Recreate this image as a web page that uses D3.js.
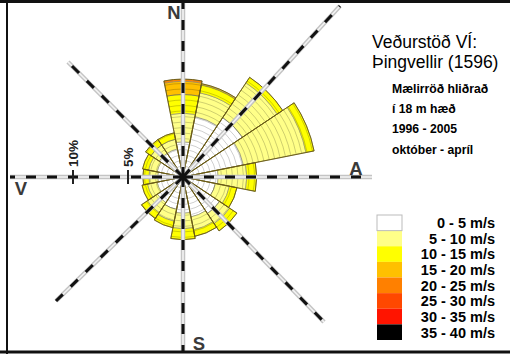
<!DOCTYPE html>
<html>
<head>
<meta charset="utf-8">
<script src="https://cdn.jsdelivr.net/npm/d3@7"></script>
<style>
  html, body { margin: 0; padding: 0; background: #fff; }
  svg { display: block; }
  text { font-family: "Liberation Sans", Arial, sans-serif; }
</style>
</head>
<body>
<svg id="chart" width="510" height="354"></svg>
<script>
// Wind directions (16 sectors, clockwise from north)
const directions = ["N", "NNA", "NA", "ANA", "A", "ASA", "SA", "SSA",
                    "S", "SSV", "SV", "VSV", "V", "VNV", "NV", "NNV"];

// Frequency (%) of each speed class per direction
const freq0to5   = [3.2, 5.6, 6.5, 5.6, 3.2, 3.0, 4.0, 3.7, 3.3, 3.0, 2.8, 2.4, 2.3, 2.4, 2.6, 2.6];
const freq5to10  = [2.6, 2.2, 3.8, 5.8, 2.6, 1.3, 1.1, 1.2, 1.4, 1.1, 1.1, 0.9, 0.8, 0.8, 0.9, 0.9];
const freq10to15 = [1.7, 0.75, 0.6, 0.75, 0.9, 0.7, 0.8, 0.6, 1.0, 0.6, 0.65, 0.5, 0.55, 0.55, 0.6, 0.6];
const freq15to20 = [1.2, 0.1, 0, 0, 0, 0, 0, 0, 0, 0, 0, 0, 0, 0, 0, 0];
const freq20to25 = [0.2, 0, 0, 0, 0, 0, 0, 0, 0, 0, 0, 0, 0, 0, 0, 0];

// Speed classes (legend)
const classLabels = ["0 - 5 m/s", "5 - 10 m/s", "10 - 15 m/s", "15 - 20 m/s",
                     "20 - 25 m/s", "25 - 30 m/s", "30 - 35 m/s", "35 - 40 m/s"];
const classColors = ["#ffffff", "#ffff88", "#ffff00", "#ffc000",
                     "#ff8000", "#ff4800", "#ff1400", "#000000"];

// Percentage scale ticks along the west axis
const scaleTicks = [5, 10];
const tickLabels = ["5%", "10%"];

// Compass labels
const compassLabels = ["N", "A", "S", "V"];

const titleLines = ["Veðurstöð VÍ:", "Þingvellir (1596)"];
const infoLines = ["Mælirröð hliðrað", "í 18 m hæð", "1996 - 2005", "október - apríl"];

const svg = d3.select("#chart");
const cx = 183, cy = 177;

// radial scale: percent -> pixels
const r = d3.scaleLinear().domain([0, 10]).range([0, 110]);
const angle = d3.scaleLinear().domain([0, directions.length]).range([0, 2 * Math.PI]);
const half = Math.PI / directions.length;

const series = [freq0to5, freq5to10, freq10to15, freq15to20, freq20to25];
const stacked = directions.map((d, i) => {
  let acc = 0;
  return series.map((s, k) => {
    const v0 = acc; acc += s[i];
    return { dir: i, cls: k, v0, v1: acc };
  });
});
const totals = stacked.map(st => st[st.length - 1].v1);

const g = svg.append("g").attr("transform", `translate(${cx},${cy})`);

const arc = d3.arc()
  .innerRadius(d => r(d.v0))
  .outerRadius(d => r(d.v1))
  .startAngle(d => angle(d.dir) - half)
  .endAngle(d => angle(d.dir) + half);

// clip path following the outline of the rose
const defs = svg.append("defs");
const clip = defs.append("clipPath").attr("id", "roseClip");
clip.selectAll("path").data(directions.map((d, i) => i)).join("path")
  .attr("d", i => d3.arc()({ innerRadius: 0, outerRadius: r(totals[i]),
      startAngle: angle(i) - half, endAngle: angle(i) + half }));

// sector bands
g.append("g").selectAll("path")
  .data(stacked.flat().filter(d => d.v1 > d.v0))
  .join("path")
  .attr("d", arc)
  .attr("fill", d => classColors[d.cls])
  .attr("stroke", "#8a8a6a")
  .attr("stroke-width", 0.6);

// fine ring grid inside the rose
const ringSteps = d3.range(0.5, 13, 0.5);
const grid = g.append("g").attr("clip-path", "url(#roseClip)");
grid.selectAll("circle").data(ringSteps).join("circle")
  .attr("r", d => r(d))
  .attr("fill", "none")
  .attr("stroke", "#000")
  .attr("stroke-opacity", 0.28)
  .attr("stroke-width", 0.7);
grid.selectAll("line").data(directions.map((d, i) => i)).join("line")
  .attr("x1", 0).attr("y1", 0)
  .attr("x2", i => Math.sin(angle(i) - half) * 200)
  .attr("y2", i => -Math.cos(angle(i) - half) * 200)
  .attr("stroke", "#000").attr("stroke-opacity", 0.3).attr("stroke-width", 0.7);

// sector outlines
g.append("g").selectAll("path")
  .data(directions.map((d, i) => i))
  .join("path")
  .attr("d", i => d3.arc()({ innerRadius: 0, outerRadius: r(totals[i]),
      startAngle: angle(i) - half, endAngle: angle(i) + half }))
  .attr("fill", "none")
  .attr("stroke", "#6b5a10")
  .attr("stroke-width", 0.9);

// main compass axes (dashed)
const axisEnds = [
  [183, 2], [340, 6], [372, 177], [324, 322],
  [183, 351], [56, 301], [10, 177], [68, 62]
];
const axes = svg.append("g");
axes.selectAll("line.bg").data(axisEnds).join("line").attr("class", "bg")
  .attr("x1", cx).attr("y1", cy).attr("x2", d => d[0]).attr("y2", d => d[1])
  .attr("stroke", "#c4c4c4").attr("stroke-width", 4.5);
axes.selectAll("line.mid").data(axisEnds).join("line").attr("class", "mid")
  .attr("x1", cx).attr("y1", cy).attr("x2", d => d[0]).attr("y2", d => d[1])
  .attr("stroke", "#f4f4f4").attr("stroke-width", 1.6);
axes.selectAll("line.dash").data(axisEnds).join("line").attr("class", "dash")
  .attr("x1", cx).attr("y1", cy).attr("x2", d => d[0]).attr("y2", d => d[1])
  .attr("stroke", "#111").attr("stroke-width", 3)
  .attr("stroke-dasharray", "10,11");
svg.append("circle").attr("cx", cx).attr("cy", cy).attr("r", 3.5).attr("fill", "#111");

// scale ticks on the west axis
const ticks = svg.append("g");
ticks.selectAll("line").data(scaleTicks).join("line")
  .attr("x1", d => cx - r(d)).attr("x2", d => cx - r(d))
  .attr("y1", cy - 7).attr("y2", cy + 7)
  .attr("stroke", "#222").attr("stroke-width", 2);
ticks.selectAll("text").data(scaleTicks).join("text")
  .attr("transform", d => `translate(${cx - r(d) + 5},${cy - 10}) rotate(-90)`)
  .attr("font-size", 13.5).attr("font-weight", "bold").attr("fill", "#222")
  .text((d, i) => tickLabels[i]);

// compass letters
const compassPos = [[174, 19, "middle"], [356, 175, "middle"], [199, 350, "middle"], [21, 195, "middle"]];
svg.append("g").selectAll("text").data(compassLabels).join("text")
  .attr("x", (d, i) => compassPos[i][0]).attr("y", (d, i) => compassPos[i][1])
  .attr("text-anchor", (d, i) => compassPos[i][2])
  .attr("font-size", 18.5).attr("font-weight", "bold").attr("fill", "#3a3a3a")
  .text(d => d);

// title block
svg.append("g").selectAll("text").data(titleLines).join("text")
  .attr("x", 372).attr("y", (d, i) => 48 + i * 19.5)
  .attr("font-size", 17.5).attr("fill", "#000")
  .text(d => d);
svg.append("g").selectAll("text").data(infoLines).join("text")
  .attr("x", 392).attr("y", (d, i) => 93 + i * 20.2)
  .attr("font-size", 12.2).attr("font-weight", "bold").attr("fill", "#000")
  .text(d => d);

// legend
const legend = svg.append("g");
const ly = d3.scaleBand().domain(d3.range(classLabels.length)).range([215, 340]);
legend.selectAll("rect").data(classColors).join("rect")
  .attr("x", 377).attr("y", (d, i) => ly(i))
  .attr("width", 25).attr("height", ly.bandwidth())
  .attr("fill", d => d);
legend.append("rect").attr("x", 377).attr("y", 215).attr("width", 25).attr("height", ly.bandwidth())
  .attr("fill", "none").attr("stroke", "#bbb").attr("stroke-width", 1);
legend.selectAll("text").data(classLabels).join("text")
  .attr("x", 495).attr("y", (d, i) => ly(i) + ly.bandwidth() - 2.5)
  .attr("text-anchor", "end")
  .attr("font-size", 14.5).attr("font-weight", "bold").attr("fill", "#000")
  .text(d => d);

// frame (top, left, bottom)
svg.append("line").attr("x1", 0).attr("x2", 510).attr("y1", 1.5).attr("y2", 1.5)
  .attr("stroke", "#111").attr("stroke-width", 3);
svg.append("line").attr("x1", 7).attr("x2", 7).attr("y1", 0).attr("y2", 354)
  .attr("stroke", "#111").attr("stroke-width", 2);
svg.append("line").attr("x1", 0).attr("x2", 510).attr("y1", 352).attr("y2", 352)
  .attr("stroke", "#111").attr("stroke-width", 3);
</script>
</body>
</html>
